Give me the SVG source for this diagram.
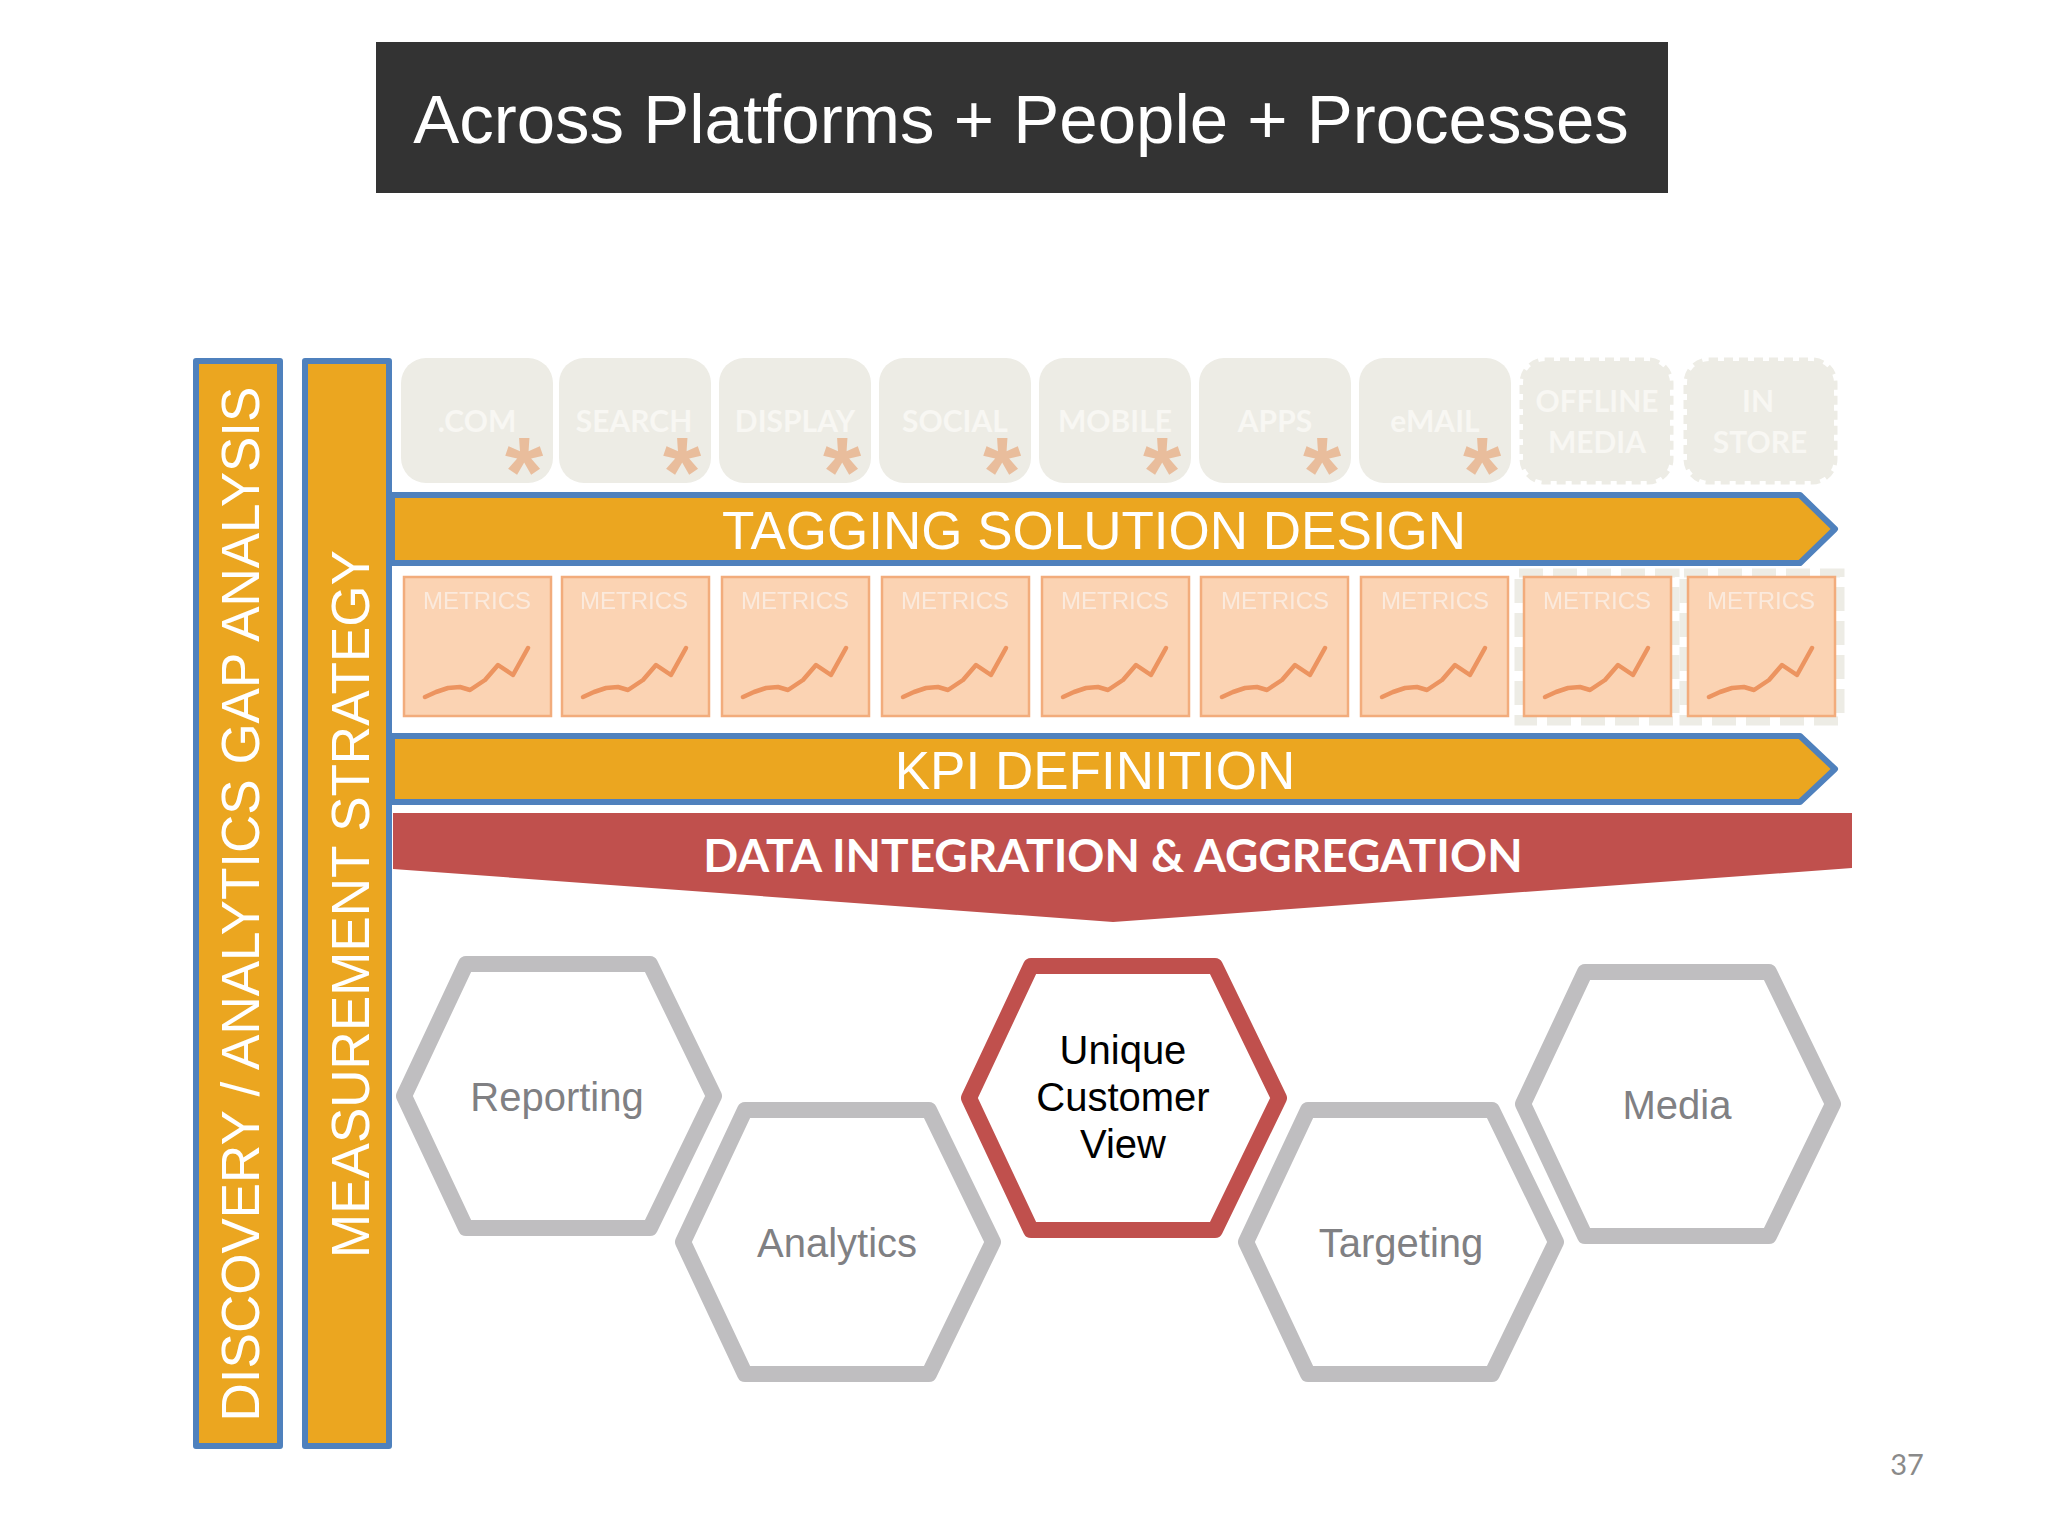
<svg xmlns="http://www.w3.org/2000/svg" xmlns:xlink="http://www.w3.org/1999/xlink" width="2048" height="1536" viewBox="0 0 2048 1536">
<defs>
<filter id="soft" x="-5%" y="-20%" width="110%" height="140%"><feGaussianBlur stdDeviation="0.7"/></filter>
<polyline id="spark" points="22,121 33,116 45,112 57,111 67,114 82,104 95,89 110,99 125,72"/>
</defs>
<style>
text{font-family:"Liberation Sans",Arial,sans-serif;text-anchor:middle}
.bar{fill:#eba620;stroke:#4f81bd;stroke-width:6;stroke-linejoin:round}
.w{fill:#fff;font-size:53px}
.tile{fill:#edece5}
.tile-d{fill:#edece5;stroke:#edece5;stroke-width:7;stroke-dasharray:9 6}
.lbl{font-family:Lato,"Open Sans",sans-serif;font-weight:700;font-size:30px;fill:#f8f7f3}
.star{font-family:"Liberation Sans",sans-serif;font-weight:700;font-size:98px;fill:#e9bd9c}
.m{fill:#fbd3b3;stroke:#f2ac7c;stroke-width:2.5}
.mt{font-size:24px;fill:#fbeadd;filter:url(#soft)}
.sp{fill:none;stroke:#ec9460;stroke-width:4.5;stroke-linejoin:round;stroke-linecap:round;filter:url(#soft)}
.md{fill:none;stroke:#edece5;stroke-width:9;stroke-dasharray:24 10}
.hex{fill:#fff;stroke:#bfbec0;stroke-width:16;stroke-linejoin:round}
.hl{font-size:40px;fill:#808083}
.hk{font-size:40px;fill:#000}
</style>
<rect width="2048" height="1536" fill="#fff"/>
<g id="title"><rect x="376" y="42" width="1292" height="151" fill="#333"/><text x="1021" y="143" font-size="69" fill="#fff">Across Platforms + People + Processes</text></g>
<g id="discovery"><rect class="bar" x="196" y="361" width="84" height="1085"/><text class="w" transform="translate(259,904) rotate(-90)">DISCOVERY / ANALYTICS GAP ANALYSIS</text></g>
<g id="measurement"><rect class="bar" x="305" y="361" width="84" height="1085"/><text class="w" transform="translate(369,904) rotate(-90)">MEASUREMENT STRATEGY</text></g>
<g id="tile-com"><rect class="tile" x="401" y="358" width="152" height="125" rx="25"/><text class="lbl" x="477" y="432">.COM</text><text class="star" x="524" y="506">*</text></g>
<g id="tile-search"><rect class="tile" x="559" y="358" width="152" height="125" rx="25"/><text class="lbl" x="634" y="432">SEARCH</text><text class="star" x="682" y="506">*</text></g>
<g id="tile-display"><rect class="tile" x="719" y="358" width="152" height="125" rx="25"/><text class="lbl" x="795" y="432">DISPLAY</text><text class="star" x="842" y="506">*</text></g>
<g id="tile-social"><rect class="tile" x="879" y="358" width="152" height="125" rx="25"/><text class="lbl" x="955" y="432">SOCIAL</text><text class="star" x="1002" y="506">*</text></g>
<g id="tile-mobile"><rect class="tile" x="1039" y="358" width="152" height="125" rx="25"/><text class="lbl" x="1115" y="432">MOBILE</text><text class="star" x="1162" y="506">*</text></g>
<g id="tile-apps"><rect class="tile" x="1199" y="358" width="152" height="125" rx="25"/><text class="lbl" x="1275" y="432">APPS</text><text class="star" x="1322" y="506">*</text></g>
<g id="tile-email"><rect class="tile" x="1359" y="358" width="152" height="125" rx="25"/><text class="lbl" x="1435" y="432">eMAIL</text><text class="star" x="1482" y="506">*</text></g>
<g id="tile-offline"><rect class="tile-d" x="1523" y="361" width="147" height="120" rx="22"/><text class="lbl" x="1597" y="412">OFFLINE</text><text class="lbl" x="1597" y="453">MEDIA</text></g>
<g id="tile-store"><rect class="tile-d" x="1687" y="361" width="147" height="120" rx="22"/><text class="lbl" x="1758" y="412">IN</text><text class="lbl" x="1760" y="453">STORE</text></g>
<g id="tagging"><path class="bar" d="M392,495H1800L1835,529L1800,563H392Z"/><text class="w" x="1094" y="549">TAGGING SOLUTION DESIGN</text></g>
<g id="metrics-1"><rect class="m" x="404" y="577" width="147" height="139"/><text class="mt" x="477" y="609">METRICS</text><use class="sp" xlink:href="#spark" href="#spark" transform="translate(403,576)"/></g>
<g id="metrics-2"><rect class="m" x="562" y="577" width="147" height="139"/><text class="mt" x="634" y="609">METRICS</text><use class="sp" href="#spark" transform="translate(561,576)"/></g>
<g id="metrics-3"><rect class="m" x="722" y="577" width="147" height="139"/><text class="mt" x="795" y="609">METRICS</text><use class="sp" href="#spark" transform="translate(721,576)"/></g>
<g id="metrics-4"><rect class="m" x="882" y="577" width="147" height="139"/><text class="mt" x="955" y="609">METRICS</text><use class="sp" href="#spark" transform="translate(881,576)"/></g>
<g id="metrics-5"><rect class="m" x="1042" y="577" width="147" height="139"/><text class="mt" x="1115" y="609">METRICS</text><use class="sp" href="#spark" transform="translate(1041,576)"/></g>
<g id="metrics-6"><rect class="m" x="1201" y="577" width="147" height="139"/><text class="mt" x="1275" y="609">METRICS</text><use class="sp" href="#spark" transform="translate(1200,576)"/></g>
<g id="metrics-7"><rect class="m" x="1361" y="577" width="147" height="139"/><text class="mt" x="1435" y="609">METRICS</text><use class="sp" href="#spark" transform="translate(1360,576)"/></g>
<g id="metrics-8"><rect class="md" x="1519" y="573" width="156" height="148"/><rect class="m" x="1524" y="577" width="147" height="139"/><text class="mt" x="1597" y="609">METRICS</text><use class="sp" href="#spark" transform="translate(1523,576)"/></g>
<g id="metrics-9"><rect class="md" x="1684" y="573" width="156" height="148"/><rect class="m" x="1688" y="577" width="147" height="139"/><text class="mt" x="1761" y="609">METRICS</text><use class="sp" href="#spark" transform="translate(1687,576)"/></g>
<g id="kpi"><path class="bar" d="M392,736H1800L1835,769L1800,802H392Z"/><text class="w" x="1095" y="789">KPI DEFINITION</text></g>
<g id="integration"><path d="M393,813H1852V868L1113,922L393,869Z" fill="#c0504d"/><text x="1113" y="872" font-size="46" font-weight="700" fill="#fff" style="font-family:Lato,'Open Sans',sans-serif">DATA INTEGRATION &amp; AGGREGATION</text></g>
<g id="hex-reporting"><path class="hex" d="M466,964H650L714,1096L650,1228H466L404,1096Z"/><text class="hl" x="557" y="1111">Reporting</text></g>
<g id="hex-analytics"><path class="hex" d="M745,1110H929L993,1242L929,1374H745L683,1242Z"/><text class="hl" x="837" y="1257">Analytics</text></g>
<g id="hex-media"><path class="hex" d="M1585,972H1769L1833,1104L1769,1236H1585L1523,1104Z"/><text class="hl" x="1677" y="1119">Media</text></g>
<g id="hex-targeting"><path class="hex" d="M1308,1110H1492L1556,1242L1492,1374H1308L1246,1242Z"/><text class="hl" x="1401" y="1257">Targeting</text></g>
<g id="hex-customer"><path class="hex" style="stroke:#c0504d" d="M1031,966H1215L1279,1098L1215,1230H1031L969,1098Z"/><text class="hk" x="1123" y="1064">Unique</text><text class="hk" x="1123" y="1111">Customer</text><text class="hk" x="1123" y="1158">View</text></g>
<g id="connectors"/>
<text x="1907" y="1475" font-size="29" fill="#8a8a8a" style="font-family:Lato,'Open Sans',sans-serif">37</text>
</svg>
